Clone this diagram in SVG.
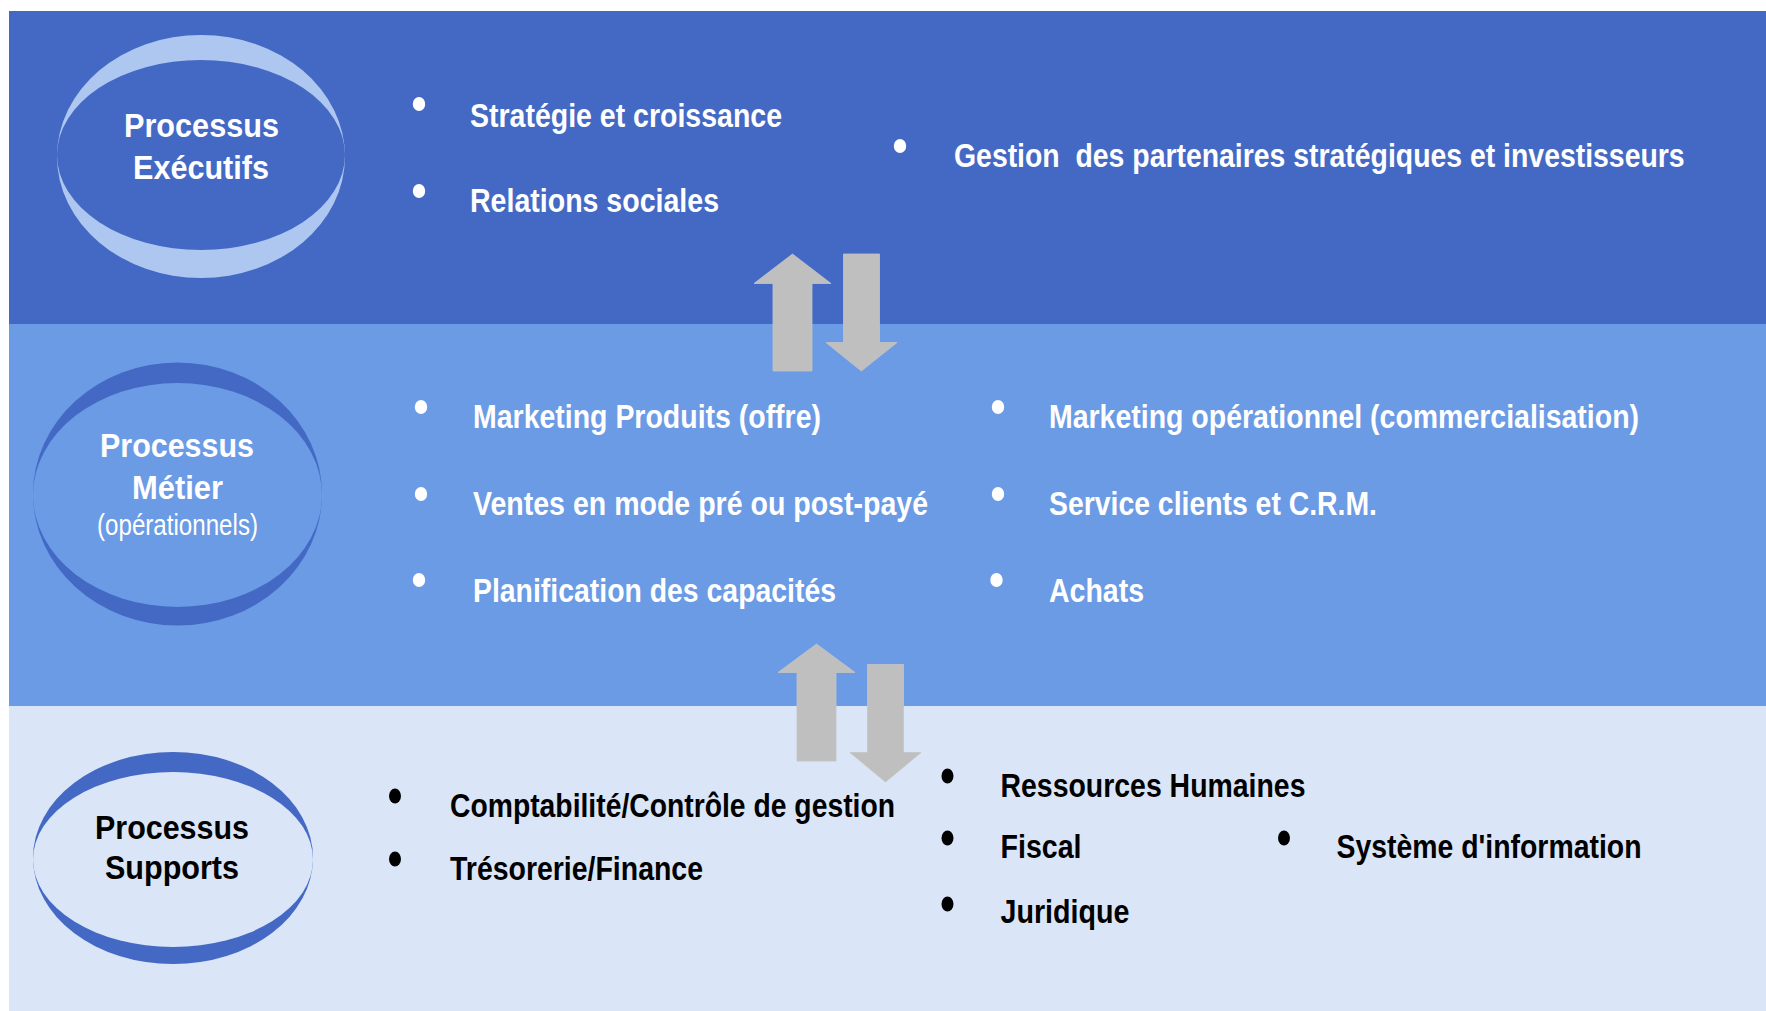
<svg xmlns="http://www.w3.org/2000/svg" width="1766" height="1011" viewBox="0 0 1766 1011">
<defs>
<style>
.t{font-family:"Liberation Sans Narrow","Liberation Sans",Arial,sans-serif;font-weight:bold;font-size:34px}
.w{fill:#FFFFFF}
.k{fill:#000000}
.reg{font-family:"Liberation Sans Narrow","Liberation Sans",Arial,sans-serif;font-weight:normal;font-size:30px}
.bw{fill:#FFFFFF}
.bk{fill:#000000}
.arrow{fill:#BFBFBF;stroke:#C4C4C4;stroke-width:0.8}
</style>
</defs>
<rect x="0" y="0" width="1766" height="1011" fill="#FFFFFF"/>
<g id="bands">
<rect x="9" y="11" width="1757" height="313" fill="#4469C5"/>
<rect x="9" y="324" width="1757" height="382" fill="#6B9BE5"/>
<rect x="9" y="706" width="1757" height="305" fill="#DAE5F7"/>
</g>
<g id="node-executifs">
<ellipse cx="201" cy="156.5" rx="144" ry="121.5" fill="#AEC7F0"/>
<ellipse cx="201" cy="155" rx="144" ry="95" fill="#4469C5"/>
<text class="t w" x="201.5" y="137" text-anchor="middle" textLength="155" lengthAdjust="spacingAndGlyphs">Processus</text>
<text class="t w" x="201" y="179" text-anchor="middle" textLength="136" lengthAdjust="spacingAndGlyphs">Exécutifs</text>
</g>
<g id="node-metier">
<ellipse cx="177.5" cy="494" rx="144.5" ry="131.5" fill="#4469C5"/>
<ellipse cx="177.5" cy="495" rx="144.5" ry="112" fill="#6B9BE5"/>
<text class="t w" x="177" y="457" text-anchor="middle" textLength="154" lengthAdjust="spacingAndGlyphs">Processus</text>
<text class="t w" x="177.5" y="499" text-anchor="middle" textLength="91" lengthAdjust="spacingAndGlyphs">Métier</text>
<text class="reg w" x="177.5" y="535" text-anchor="middle" textLength="161" lengthAdjust="spacingAndGlyphs">(opérationnels)</text>
</g>
<g id="node-supports">
<ellipse cx="173" cy="858" rx="140" ry="106" fill="#4469C5"/>
<ellipse cx="173" cy="859.5" rx="140" ry="87.5" fill="#DAE5F7"/>
<text class="t k" x="172" y="839" text-anchor="middle" textLength="154" lengthAdjust="spacingAndGlyphs">Processus</text>
<text class="t k" x="172" y="879" text-anchor="middle" textLength="134" lengthAdjust="spacingAndGlyphs">Supports</text>
</g>
<g id="items-executifs">
<g id="item-strategie"><ellipse class="bw" cx="419" cy="104" rx="6.2" ry="7"/><text class="t w" x="470" y="127" textLength="312" lengthAdjust="spacingAndGlyphs">Stratégie et croissance</text></g>
<g id="item-relations"><ellipse class="bw" cx="419" cy="191" rx="6.2" ry="7"/><text class="t w" x="470" y="212" textLength="249" lengthAdjust="spacingAndGlyphs">Relations sociales</text></g>
<g id="item-gestion"><ellipse class="bw" cx="900" cy="146" rx="6.2" ry="7"/><text class="t w" transform="translate(954 167) scale(0.82 1)" x="0" y="0" textLength="891" lengthAdjust="spacingAndGlyphs">Gestion&#160; des partenaires stratégiques et investisseurs</text></g>
</g>
<g id="items-metier">
<g id="item-mkt-produits"><ellipse class="bw" cx="421" cy="407" rx="6.2" ry="7"/><text class="t w" x="473" y="428" textLength="348" lengthAdjust="spacingAndGlyphs">Marketing Produits (offre)</text></g>
<g id="item-ventes"><ellipse class="bw" cx="421" cy="494" rx="6.2" ry="7"/><text class="t w" x="473" y="515" textLength="455" lengthAdjust="spacingAndGlyphs">Ventes en mode pré ou post-payé</text></g>
<g id="item-planif"><ellipse class="bw" cx="419" cy="580" rx="6.2" ry="7"/><text class="t w" x="473" y="602" textLength="363" lengthAdjust="spacingAndGlyphs">Planification des capacités</text></g>
<g id="item-mkt-op"><ellipse class="bw" cx="998" cy="407" rx="6.2" ry="7"/><text class="t w" x="1049" y="428" textLength="590" lengthAdjust="spacingAndGlyphs">Marketing opérationnel (commercialisation)</text></g>
<g id="item-service"><ellipse class="bw" cx="998" cy="494" rx="6.2" ry="7"/><text class="t w" x="1049" y="515" textLength="328" lengthAdjust="spacingAndGlyphs">Service clients et C.R.M.</text></g>
<g id="item-achats"><ellipse class="bw" cx="996.5" cy="580" rx="6.2" ry="7"/><text class="t w" x="1049" y="602" textLength="95" lengthAdjust="spacingAndGlyphs">Achats</text></g>
</g>
<g id="items-supports">
<g id="item-compta"><ellipse class="bk" cx="395" cy="796" rx="6" ry="7.5"/><text class="t k" x="450" y="817" textLength="445" lengthAdjust="spacingAndGlyphs">Comptabilité/Contrôle de gestion</text></g>
<g id="item-tresorerie"><ellipse class="bk" cx="395" cy="859" rx="6" ry="7.5"/><text class="t k" x="450" y="880" textLength="253" lengthAdjust="spacingAndGlyphs">Trésorerie/Finance</text></g>
<g id="item-rh"><ellipse class="bk" cx="947.5" cy="776" rx="6" ry="7.5"/><text class="t k" x="1000.5" y="797" textLength="305" lengthAdjust="spacingAndGlyphs">Ressources Humaines</text></g>
<g id="item-fiscal"><ellipse class="bk" cx="947.5" cy="838" rx="6" ry="7.5"/><text class="t k" x="1000.5" y="858" textLength="81" lengthAdjust="spacingAndGlyphs">Fiscal</text></g>
<g id="item-juridique"><ellipse class="bk" cx="947.5" cy="904" rx="6" ry="7.5"/><text class="t k" x="1000.5" y="923" textLength="129" lengthAdjust="spacingAndGlyphs">Juridique</text></g>
<g id="item-si"><ellipse class="bk" cx="1284" cy="838" rx="6" ry="7.5"/><text class="t k" x="1336.5" y="858" textLength="305" lengthAdjust="spacingAndGlyphs">Système d'information</text></g>
</g>
<g id="connectors">
<polygon class="arrow" points="792.5,254 831,283.5 812,283.5 812,371 773,371 773,283.5 754,283.5"/>
<polygon class="arrow" points="843.5,254 879.5,254 879.5,342.5 897,342.5 861.3,371 826,342.5 843.5,342.5"/>
<polygon class="arrow" points="816.5,644 855,672.5 836,672.5 836,761 797,761 797,672.5 778,672.5"/>
<polygon class="arrow" points="867.5,664.5 903.5,664.5 903.5,752.5 921,752.5 885.5,782 850,752.5 867.5,752.5"/>
</g>
</svg>
